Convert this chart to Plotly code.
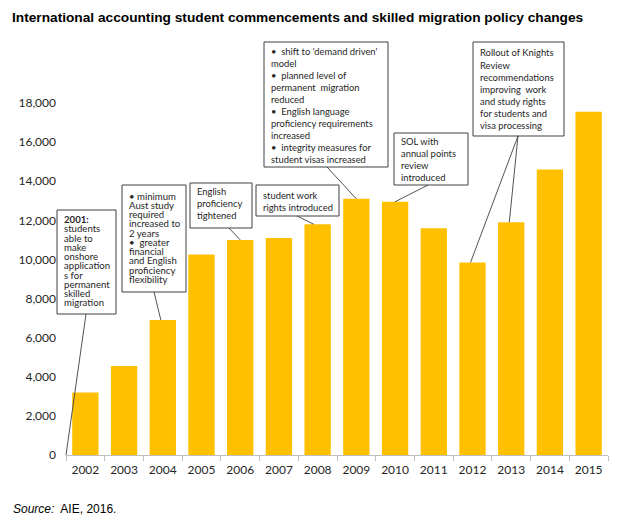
import plotly.graph_objects as go

# ---------------- data ----------------
years = ["2002", "2003", "2004", "2005", "2006", "2007", "2008",
         "2009", "2010", "2011", "2012", "2013", "2014", "2015"]
commencements = [3200, 4550, 6900, 10250, 11000, 11100, 11800,
                 13100, 12950, 11600, 9850, 11900, 14600, 17550]
y_tick_values = [0, 2000, 4000, 6000, 8000, 10000, 12000, 14000, 16000, 18000]
y_tick_labels = ["0", "2,000", "4,000", "6,000", "8,000", "10,000",
                 "12,000", "14,000", "16,000", "18,000"]

title_text = "International accounting student commencements and skilled migration policy changes"
source_text = "<i>Source:</i>  AIE, 2016."

# policy notes: lines of text, the year (or None = origin) they point at
notes = [
    {"lines": ["<b>2001:</b>", "students", "able to", "make", "onshore",
               "application", "s for", "permanent", "skilled", "migration"],
     "targets": [None]},
    {"lines": ["• minimum", "Aust study", "required", "increased to", "2 years",
               "•  greater", "financial", "and English", "proficiency", "flexibility"],
     "targets": ["2004"]},
    {"lines": ["English", "proficiency", "tightened"],
     "targets": ["2006"]},
    {"lines": ["student work", "rights introduced"],
     "targets": ["2008"]},
    {"lines": ["•  shift to 'demand driven'", "model", "•  planned level of",
               "permanent  migration", "reduced", "•  English language",
               "proficiency requirements", "increased", "•  integrity measures for",
               "student visas increased"],
     "targets": ["2009"]},
    {"lines": ["SOL with", "annual points", "review", "introduced"],
     "targets": ["2010"]},
    {"lines": ["Rollout of Knights", "Review", "recommendations", "improving  work",
               "and study rights", "for students and", "visa processing"],
     "targets": ["2012", "2013"]},
]

# ---------------- layout geometry (pixels) ----------------
W, H = 626, 521
L, R, T, B = 66, 18, 30, 66
plot_w = W - L - R
plot_h = H - T - B
px_per_unit = 352 / 18000.0
y_max = plot_h / px_per_unit

box_geom = [
    dict(rect=(57, 210, 116, 314), first=219.5, step=9.25, size=9.6, anchor=(86, 314), tip_dx=0.0),
    dict(rect=(122, 185, 186, 292), first=196, step=9.25, size=9.6, anchor=(154, 292), tip_dx=-0.05),
    dict(rect=(190, 183, 252, 228), first=191.5, step=11.8, size=9.4, anchor=(229, 228), tip_dx=0.0),
    dict(rect=(256, 185, 339, 216), first=195.5, step=11.7, size=9.4, anchor=(297, 216), tip_dx=-0.1),
    dict(rect=(264, 42, 388, 167), first=51, step=12.05, size=9.4, anchor=(327, 167), tip_dx=0.0),
    dict(rect=(394, 133, 468, 185), first=141.5, step=11.9, size=9.4, anchor=(428, 185), tip_dx=0.0),
    dict(rect=(473, 42, 564, 136), first=53, step=12.05, size=9.4, anchor=(518, 136), tip_dx=-0.05),
]


def pxx(px):
    return (px - L) / plot_w


def pyy(py):
    return (H - B - py) / plot_h


def data_to_paper_x(idx):
    return (idx + 0.5) / len(years)


def data_to_paper_y(v):
    return v / y_max


fig = go.Figure()
fig.add_trace(go.Bar(x=years, y=commencements, marker_color="#FFC000",
                     marker_line_width=0, hoverinfo="x+y"))

shapes = []
annotations = []
box_font = "Lato, Carlito, Calibri, sans-serif"
for note, g in zip(notes, box_geom):
    l, t, r, b = g["rect"]
    shapes.append(dict(type="rect", xref="paper", yref="paper",
                       x0=pxx(l), x1=pxx(r), y0=pyy(b), y1=pyy(t),
                       line=dict(color="#404040", width=1), fillcolor="white",
                       layer="above"))
    for i, line in enumerate(note["lines"]):
        annotations.append(dict(xref="paper", yref="paper",
                                x=pxx(l + 5), y=pyy(g["first"] + i * g["step"]),
                                xanchor="left", yanchor="middle", showarrow=False,
                                text=line, font=dict(family=box_font, size=g["size"], color="#262626")))
    ax, ay = g["anchor"]
    for tgt in note["targets"]:
        if tgt is None:
            tx, ty = -0.5, 0
        else:
            k = years.index(tgt)
            tx, ty = k + g["tip_dx"], commencements[k]
        shapes.append(dict(type="line", xref="paper", yref="paper",
                           x0=pxx(ax), y0=pyy(ay),
                           x1=data_to_paper_x(tx), y1=data_to_paper_y(ty),
                           line=dict(color="#404040", width=0.9), layer="above"))

annotations.append(dict(xref="paper", yref="paper", x=pxx(10), y=pyy(18),
                        xanchor="left", yanchor="middle", showarrow=False,
                        text="<b>" + title_text + "</b>",
                        font=dict(family="Liberation Sans, Arial, sans-serif", size=13.7, color="black")))
annotations.append(dict(xref="paper", yref="paper", x=pxx(11), y=pyy(509),
                        xanchor="left", yanchor="middle", showarrow=False,
                        text=source_text,
                        font=dict(family="Liberation Sans, Arial, sans-serif", size=12, color="black")))

fig.update_layout(
    width=W, height=H,
    margin=dict(l=L, r=R, t=T, b=B, pad=0),
    paper_bgcolor="white", plot_bgcolor="white",
    showlegend=False,
    bargap=0.32,
    shapes=shapes,
    annotations=annotations,
    xaxis=dict(type="category", range=[-0.5, len(years) - 0.5],
               showline=True, linecolor="#BFBFBF", linewidth=1,
               ticks="outside", tickson="boundaries", ticklen=5, tickcolor="#BFBFBF",
               ticklabelstandoff=4,
               showgrid=False, zeroline=False,
               tickfont=dict(family=box_font, size=12, color="#262626")),
    yaxis=dict(range=[0, y_max], tickmode="array", tickvals=y_tick_values,
               ticktext=y_tick_labels, showgrid=False, zeroline=False,
               showline=False, ticks="", ticklabelstandoff=9,
               tickfont=dict(family=box_font, size=12, color="#262626")),
)

fig.write_html("out.html",
               config={"displayModeBar": False},
               post_script="document.body.style.margin='0px';document.body.style.overflow='hidden';")
